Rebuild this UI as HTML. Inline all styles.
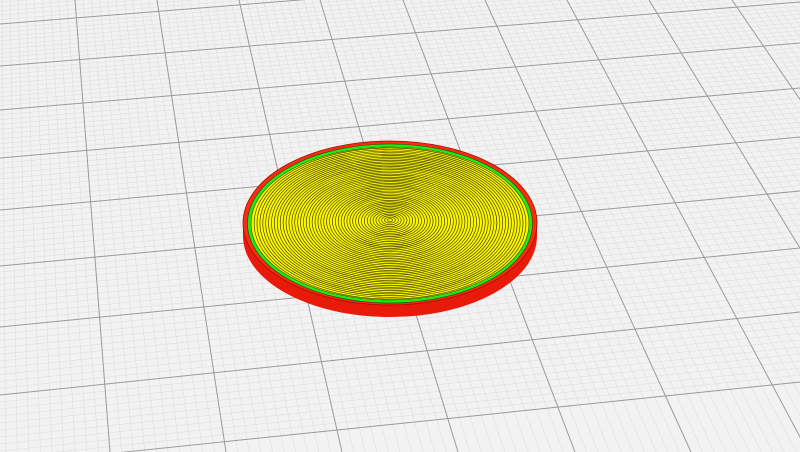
<!DOCTYPE html>
<html><head><meta charset="utf-8"><style>
html,body{margin:0;padding:0;background:#f2f2f2;}
svg{display:block;}
</style></head><body>
<svg id="scene" width="800" height="452" viewBox="0 0 800 452" xmlns="http://www.w3.org/2000/svg">
<rect width="800" height="452" fill="#f2f2f2"/>
<g id="minor" stroke="#dedede" stroke-width="0.6"></g>
<g id="major" stroke="#9a9a9a" stroke-width="1"></g>
<g id="disc">
  <ellipse cx="390" cy="236" rx="147" ry="81" fill="#e81a0a"/>
  <rect x="243" y="223" width="294" height="13" fill="#f21c0a"/>
  <ellipse cx="390" cy="223" rx="147" ry="82" fill="#ff2a10" stroke="#a01000" stroke-width="0.8"/>
  <ellipse cx="390" cy="223.5" rx="142.5" ry="79.5" fill="#22e814" stroke="#105000" stroke-width="0.6"/>
  <ellipse cx="390" cy="223.5" rx="139" ry="76.5" fill="#fbf500" stroke="#404000" stroke-width="0.6"/>
  <g id="rings" fill="none" stroke="#2a2a00" stroke-width="0.6"></g>
</g>
</svg>
<script>
const vTop=[-6,75,157,239,320,403,485,567,649,732,814];
const vBot=[-6,110,226,342,458,575,691,808,924,1041,1157];
const hLeft=[-20,24,66,110,158,210,266,327,395,465];
const hRight=[-80,-40,2,43,88,137,191,248,312,382];
const NS='http://www.w3.org/2000/svg';
const minor=document.getElementById('minor'),major=document.getElementById('major');
function ln(g,x1,y1,x2,y2,name){
  const l=document.createElementNS(NS,'line');
  l.setAttribute('x1',x1.toFixed(1));l.setAttribute('y1',y1.toFixed(1));
  l.setAttribute('x2',x2.toFixed(1));l.setAttribute('y2',y2.toFixed(1));
  
  
  g.appendChild(l);
}
for(let i=0;i<vTop.length;i++){
  ln(major,vTop[i],0,vBot[i],452,'grid-line-v');
  if(i<vTop.length-1){for(let k=1;k<10;k++){const f=k/10;
    ln(minor,vTop[i]+(vTop[i+1]-vTop[i])*f,0,vBot[i]+(vBot[i+1]-vBot[i])*f,452,'minor-line-v');}}
}
for(let j=0;j<hLeft.length;j++){
  ln(major,0,hLeft[j],800,hRight[j],'grid-line-h');
  if(j<hLeft.length-1){for(let k=1;k<10;k++){const f=k/10;
    ln(minor,0,hLeft[j]+(hLeft[j+1]-hLeft[j])*f,800,hRight[j]+(hRight[j+1]-hRight[j])*f,'minor-line-h');}}
}
const rings=document.getElementById('rings');
for(let r=2.5;r<137;r+=2.9){
  const e=document.createElementNS(NS,'ellipse');
  const t=r/137;
  e.setAttribute('cx',390);e.setAttribute('cy',(220+3.5*t).toFixed(1));
  e.setAttribute('rx',r.toFixed(1));e.setAttribute('ry',(r*0.556).toFixed(1));
  
  
  rings.appendChild(e);
}
</script>
</body></html>
